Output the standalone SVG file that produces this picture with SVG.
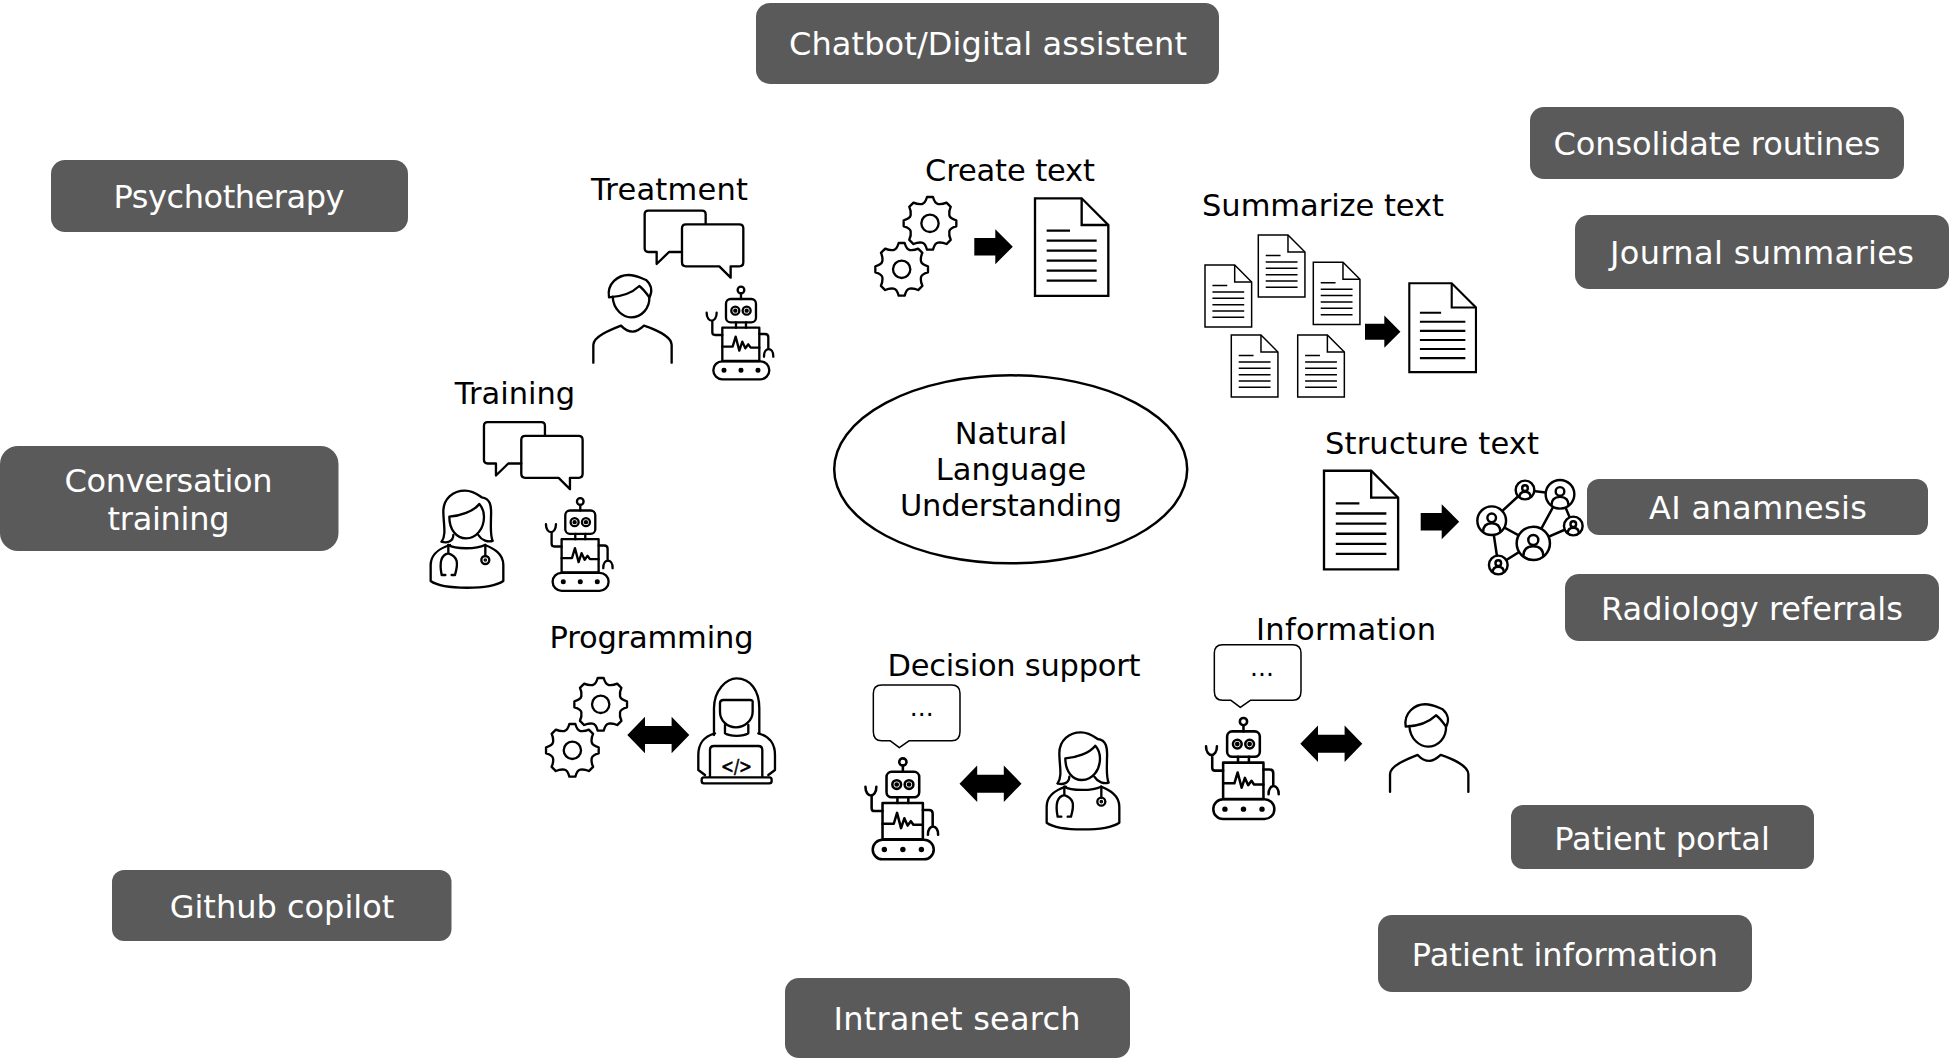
<svg xmlns="http://www.w3.org/2000/svg" width="1949" height="1060" viewBox="0 0 1949 1060">
<style>
text{font-family:"DejaVu Sans","Liberation Sans",sans-serif;text-anchor:middle}
.pill rect{fill:#5a5a5a}
.pill text{fill:#fff;font-size:32px}
.lab{fill:#000;font-size:30.500px}
.ic{fill:none;stroke:#000;stroke-width:7;stroke-linecap:round;stroke-linejoin:round}
.ar{fill:#000;stroke:none}
</style>
<defs>
<g id="robot" class="ic">
<circle cx="543" cy="390" r="10"/><path d="M543 400V417"/>
<rect x="498" y="417" width="90" height="70" rx="14"/>
<circle cx="526" cy="452" r="12"/><circle cx="560" cy="452" r="12"/>
<circle cx="526" cy="452" r="3" fill="#000"/><circle cx="560" cy="452" r="3" fill="#000"/>
<path d="M528 487V503M558 487V503"/>
<rect x="487" y="503" width="111" height="100"/>
<path d="M487 560H518L527 530L538 572L547 545L556 565L565 553L572 563H598"/>
<path d="M487 525H465Q457 525 457 517V482M440 458C440 490 470 490 470 458"/>
<path d="M598 522H615Q625 522 625 532V565M612 590C612 560 640 560 640 590"/>
<rect x="460" y="604" width="168" height="54" rx="27"/>
<circle cx="492" cy="631" r="4" fill="#000"/><circle cx="543" cy="631" r="4" fill="#000"/><circle cx="594" cy="631" r="4" fill="#000"/>
</g>
<g id="man" class="ic">
<path d="M147 412C140 370 175 345 205 345C230 345 245 355 258 360C275 375 278 395 268 412C258 398 248 385 238 378C215 400 190 410 147 412Z"/>
<path d="M158 410C160 450 190 472 213 472C245 472 270 445 268 410"/>
<path d="M100 608V555C100 530 150 510 183 497C195 510 205 515 218 515C230 515 240 508 252 497C285 508 335 530 335 555V608"/>
</g>
<g id="woman" class="ic">
<path d="M95 395C110 375 100 340 100 305C100 265 130 242 165 242C190 242 205 255 215 262C240 265 245 285 243 320C243 350 240 375 248 393C235 397 215 392 205 375"/>
<path d="M95 395C110 400 130 395 130 375"/>
<path d="M118 320C118 360 140 385 168 385C200 385 222 355 222 320C222 305 215 290 208 282C190 305 150 318 118 320Z"/>
<path d="M115 405C135 418 200 418 225 405"/>
<path d="M120 405C90 415 62 430 62 465V513C100 540 240 540 280 513V465C280 430 250 415 225 405"/>
<path d="M115 405V430C90 435 88 460 95 495H106M125 495H135C145 460 145 440 115 430"/>
<path d="M226 405V438"/><circle cx="226" cy="450" r="12"/><circle cx="226" cy="450" r="2" fill="#000"/>
</g>
<g id="bubbles" class="ic">
<path d="M437 190V163Q437 152 426 152H265Q254 152 254 163V265Q254 276 265 276H290V312L327 276H366"/>
<path d="M478 319H378Q366 319 366 307V205Q366 193 378 193H538Q550 193 550 205V307Q550 319 538 319H512V353Z"/>
</g>
<g id="gear" class="ic">
<path d="M-9 -79L9 -79Q14 -60 24 -58Q36 -56 49.500 -62.200L62.200 -49.500Q56 -36 58 -24Q60 -14 79 -9L79 9Q60 14 58 24Q56 36 62.200 49.500L49.500 62.200Q36 56 24 58Q14 60 9 79L-9 79Q-14 60 -24 58Q-36 56 -49.500 62.200L-62.200 49.500Q-56 36 -58 24Q-60 14 -79 9L-79 -9Q-60 -14 -58 -24Q-56 -36 -62.200 -49.500L-49.500 -62.200Q-36 -56 -24 -58Q-14 -60 -9 -79Z"/>
<circle r="26"/>
</g>
<g id="gears">
<use href="#gear" transform="translate(240 220)"/>
<use href="#gear" transform="translate(155 358)"/>
</g>
<g id="doc" class="ic" style="stroke-linecap:butt;stroke-linejoin:miter">
<path d="M0 0H140L220 80V293H0Z" fill="#fff"/>
<path d="M140 0V80H220M35 97H105M35 127H185M35 157H185M35 187H185M35 217H185M35 247H185"/>
</g>
<path id="arrow" class="ar" d="M0 -8.700H21V-17.500L38.500 0L21 17.500V8.700H0Z"/>
<path id="darrow" class="ar" d="M0 0L17.700 -18.300V-9H44.300V-18.300L62 0L44.300 18.300V9H17.700V18.300Z"/>
<g id="np" fill="#fff" stroke="#000" stroke-linejoin="round">
<circle r="50"/>
<circle cy="-10" r="15" fill="none"/>
<path d="M-30 40C-30 15 -15 9 0 9C15 9 30 15 30 40" fill="none"/>
</g>
<path id="say" class="ic" style="stroke-width:4.500" d="M65 15H275Q300 15 300 40V155Q300 182 275 182H148L118 203L90 182H65Q40 182 40 155V40Q40 15 65 15Z"/>
</defs>
<rect width="1949" height="1060" fill="#fff"/>

<g id="chatbot" class="pill"><rect x="756" y="3" width="463" height="81" rx="14"/><text x="988" y="55" textLength="398">Chatbot/Digital assistent</text></g>
<g id="consolidate" class="pill"><rect x="1530" y="107" width="374" height="72" rx="14"/><text x="1717" y="155" textLength="327">Consolidate routines</text></g>
<g id="journal" class="pill"><rect x="1575" y="215" width="374" height="74" rx="14"/><text x="1762" y="264" textLength="304">Journal summaries</text></g>
<g id="psychotherapy" class="pill"><rect x="51" y="160" width="357" height="72" rx="14"/><text x="229" y="208" textLength="231">Psychotherapy</text></g>
<g id="conversation" class="pill"><rect x="0" y="446" width="338.500" height="105" rx="18"/><text x="168.500" y="492" textLength="208">Conversation</text><text x="168.500" y="530" textLength="122">training</text></g>
<g id="anamnesis" class="pill"><rect x="1587" y="479" width="341" height="56" rx="12"/><text x="1758" y="519" textLength="218">AI anamnesis</text></g>
<g id="radiology" class="pill"><rect x="1565" y="574" width="374" height="67" rx="14"/><text x="1752" y="620">Radiology referrals</text></g>
<g id="portal" class="pill"><rect x="1511" y="805" width="303" height="64" rx="12"/><text x="1662" y="850">Patient portal</text></g>
<g id="patientinfo" class="pill"><rect x="1378" y="915" width="374" height="77" rx="14"/><text x="1565" y="966">Patient information</text></g>
<g id="github" class="pill"><rect x="112" y="870" width="339.500" height="71" rx="12"/><text x="282" y="918">Github copilot</text></g>
<g id="intranet" class="pill"><rect x="785" y="978" width="345" height="80" rx="14"/><text x="957" y="1030" textLength="247">Intranet search</text></g>

<g id="nlu"><ellipse cx="1010.700" cy="469.300" rx="176.500" ry="94" fill="#fff" stroke="#000" stroke-width="2.500"/>
<text class="lab" x="1011" y="444">Natural</text><text class="lab" x="1011" y="480">Language</text><text class="lab" x="1011" y="516" textLength="222">Understanding</text></g>

<g id="treatment"><text class="lab" x="669.500" y="200" textLength="157">Treatment</text>
<use href="#bubbles" transform="translate(560 160) scale(.3333)"/>
<use href="#man" transform="translate(560 160) scale(.3333)"/>
<use href="#robot" transform="translate(560 160) scale(.3333)"/></g>

<g id="training"><text class="lab" x="515" y="404">Training</text>
<use href="#bubbles" transform="translate(399.300 371.500) scale(.3333)"/>
<use href="#woman" transform="translate(410 410) scale(.3333)"/>
<use href="#robot" transform="translate(399.300 371.500) scale(.3333)"/></g>

<g id="createtext"><text class="lab" x="1010" y="181" textLength="170">Create text</text>
<use href="#gears" transform="translate(850 150) scale(.3333)"/>
<use href="#doc" transform="translate(1035 198.300) scale(.3333)"/></g>

<g id="summarize"><text class="lab" x="1323" y="216" textLength="242">Summarize text</text>
<use href="#doc" transform="translate(1205 265) scale(.212)"/>
<use href="#doc" transform="translate(1258.300 235) scale(.212)"/>
<use href="#doc" transform="translate(1313.300 262.300) scale(.212)"/>
<use href="#doc" transform="translate(1231.300 335) scale(.212)"/>
<use href="#doc" transform="translate(1297.700 335) scale(.212)"/>
<use href="#doc" transform="translate(1409.300 283.300) scale(.303)"/></g>

<g id="structure"><text class="lab" x="1432" y="454" textLength="214">Structure text</text>
<use href="#doc" transform="translate(1324 470.700) scale(.337)"/>
<g id="network">
<path d="M1525 490L1560 494.300M1491.700 520.700L1525 490M1560 494.300L1573.300 526M1560 494.300L1533.300 543.300M1491.700 520.700L1533.300 543.300M1533.300 543.300L1573.300 526M1498.300 565L1491.700 520.700M1498.300 565L1533.300 543.300" stroke="#000" stroke-width="2.500" fill="none"/>
<use href="#np" transform="translate(1525 490) scale(.187)" style="stroke-width:13"/>
<use href="#np" transform="translate(1560 494.300) scale(.287)" style="stroke-width:8.500"/>
<use href="#np" transform="translate(1491.700 520.700) scale(.287)" style="stroke-width:8.500"/>
<use href="#np" transform="translate(1573.300 526) scale(.187)" style="stroke-width:13"/>
<use href="#np" transform="translate(1533.300 543.300) scale(.333)" style="stroke-width:7.500"/>
<use href="#np" transform="translate(1498.300 565) scale(.187)" style="stroke-width:13"/>
</g></g>

<g id="programming"><text class="lab" x="651.500" y="648" textLength="204">Programming</text>
<use href="#gears" transform="translate(520.700 631) scale(.3333)"/>
<g id="coder" class="ic" transform="translate(530 670) scale(.3333)">
<path d="M552 195V115C552 60 590 25 620 25C660 25 688 60 688 115V190"/>
<path d="M570 100Q570 90 580 90H660Q670 90 668 100V125C668 150 645 172 618 172C590 172 570 150 570 125Z"/>
<path d="M585 165V190C600 200 640 200 655 190V165"/>
<path d="M555 190C520 200 505 220 505 255V300L525 315M685 190C720 200 735 220 735 255V300L715 315"/>
<path d="M540 320V240Q540 228 552 228H685Q697 228 697 240V320"/>
<rect x="515" y="322" width="210" height="18" rx="7"/>
</g>
<text x="736.500" y="773" textLength="31" lengthAdjust="spacingAndGlyphs" style="font-size:20px;fill:#000;stroke:#000;stroke-width:.6px">&lt;/&gt;</text></g>

<g id="decision"><text class="lab" x="1014" y="676" textLength="253">Decision support</text>
<use href="#say" transform="translate(860 680) scale(.3333)"/>
<text x="921.700" y="716" style="font-size:25px;fill:#000">...</text>
<use href="#robot" transform="translate(705.600 620.300) scale(.3633)"/>
<use href="#woman" transform="translate(1026 651.700) scale(.3333)"/></g>

<g id="information"><text class="lab" x="1346" y="640" textLength="180">Information</text>
<use href="#say" transform="translate(1201 639.700) scale(.3333)"/>
<text x="1262" y="676" style="font-size:25px;fill:#000">...</text>
<use href="#robot" transform="translate(1046.200 579.900) scale(.3633)"/>
<use href="#man" transform="translate(1356.700 589.300) scale(.3333)"/></g>

<g id="connectors">
<use href="#arrow" transform="translate(974.300 246.700)"/>
<use href="#arrow" transform="translate(1365 331.700) scale(.92)"/>
<use href="#arrow" transform="translate(1420.700 521.700)"/>
<use href="#darrow" transform="translate(627.300 735)"/>
<use href="#darrow" transform="translate(959.500 783.700)"/>
<use href="#darrow" transform="translate(1300.300 743.700)"/>
</g>
</svg>
